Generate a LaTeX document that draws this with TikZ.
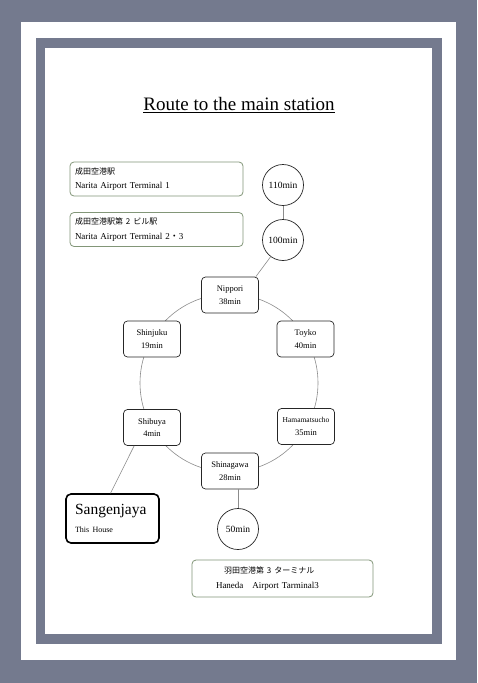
\documentclass[tikz,border=0pt]{standalone}
\usepackage{fontspec}
\setmainfont{Liberation Serif}
\newfontfamily\jp{Noto Sans CJK JP}
\definecolor{frame}{RGB}{116,122,142}
\definecolor{boxgreen}{RGB}{130,150,120}
\definecolor{linegray}{RGB}{140,140,140}
\tikzset{
  station/.style={draw=black!85, line width=0.7pt, rounded corners=4pt, fill=white,
    minimum width=57pt, minimum height=36pt, align=center, inner sep=1pt,
    font=\fontsize{8.5}{12.5}\selectfont},
  timecirc/.style={circle, draw=black!85, line width=0.7pt, fill=white, minimum size=41pt,
    inner sep=0pt, font=\fontsize{9.5}{11}\selectfont},
  infobox/.style={draw=boxgreen, line width=0.8pt, rounded corners=4pt, fill=white,
    minimum width=173pt, minimum height=34pt, text width=163pt, align=left,
    inner xsep=5pt, font=\fontsize{9}{14.5}\selectfont},
  link/.style={draw=linegray, line width=0.6pt}
}
\begin{document}
\begin{tikzpicture}[x=1pt,y=-1pt]
\useasboundingbox (0,0) rectangle (477,683);
\fill[frame] (0,0) rectangle (477,683);
\fill[white] (21,22) rectangle (456,660);
\fill[frame] (36,38) rectangle (442,644);
\fill[white] (45,48) rectangle (432,634);

\node (title) at (239,105) {\fontsize{19}{22}\selectfont\underline{Route to the main station}};

\node[infobox] (narita1) at (156.5,179) {{\jp\fontsize{8}{14.5}\selectfont 成田空港駅}\\Narita Airport Terminal 1};
\node[infobox] (narita2) at (156.5,229.5) {{\jp\fontsize{8}{14.5}\selectfont 成田空港駅第 2 ビル駅}\\Narita Airport Terminal 2{\jp ・}3};

\draw[linegray, line width=0.6pt] (229,383) circle (89);

\node[timecirc] (c110) at (283,185) {110min};
\node[timecirc] (c100) at (283,240) {100min};

\node[station] (nippori) at (230,295) {Nippori\\38min};
\node[station] (shinjuku) at (152,339) {Shinjuku\\19min};
\node[station] (toyko) at (305.5,339) {Toyko\\40min};
\node[station] (shibuya) at (152,427.5) {Shibuya\\4min};
\node[station] (hamamatsucho) at (306,426.5) {\fontsize{7.5}{11}\selectfont Hamamatsucho\\35min};
\node[station] (shinagawa) at (230,471) {Shinagawa\\28min};

\node[draw=black, line width=1.6pt, rounded corners=5pt, fill=white, minimum width=93pt,
  minimum height=49pt, text width=83pt, align=left, inner xsep=5pt] (sang) at (112.5,518.5)
  {\hspace*{4pt}{\fontsize{15.5}{17}\selectfont Sangenjaya}\\[6pt]\hspace*{4pt}{\fontsize{8}{9}\selectfont This House}};

\node[timecirc] (c50) at (238,529) {50min};

\node[draw=boxgreen, line width=0.8pt, rounded corners=4pt, fill=white, minimum width=181pt,
  minimum height=37pt, text width=133pt, inner xsep=24pt, align=left,
  font=\fontsize{9}{14.5}\selectfont] (haneda) at (282.5,578.5)
  {\hspace*{8pt}{\jp\fontsize{8}{14.5}\selectfont 羽田空港第 3 ターミナル}\\Haneda\quad Airport Tarminal3};

\draw[link] (c110) -- (c100);
\draw[link] (c100) -- ([xshift=-3pt]nippori.north east);
\draw[link] ([xshift=11pt]shibuya.south west) -- ([xshift=-2pt]sang.north);
\draw[link] (shinagawa.south -| c50) -- (c50);
\end{tikzpicture}
\end{document}
